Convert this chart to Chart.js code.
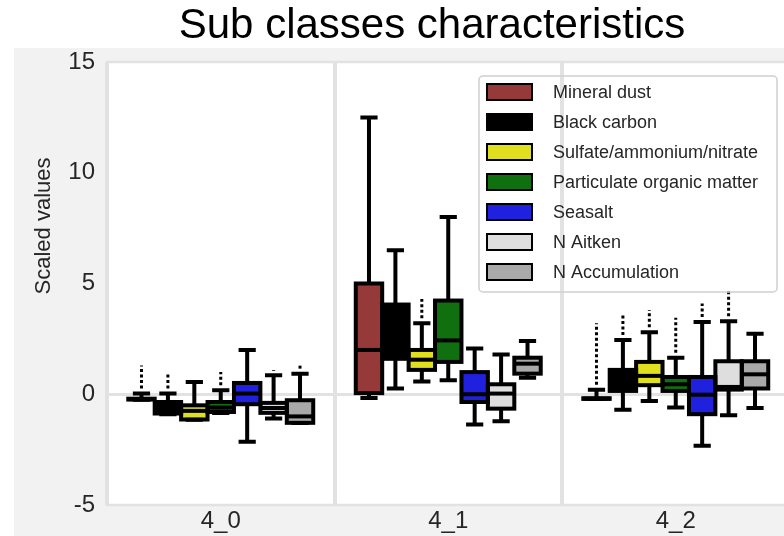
<!DOCTYPE html>
<html>
<head>
<meta charset="utf-8">
<script src="https://cdn.jsdelivr.net/npm/chart.js@4.4.1/dist/chart.umd.min.js"></script>
<style>
  html, body { margin: 0; padding: 0; overflow: hidden; background: #fff; }
  #wrap { width: 792px; height: 536px; }
</style>
</head>
<body>
<div id="wrap"><canvas id="myChart" width="792" height="536"></canvas></div>
<script>
"use strict";
const categories = ["4_0", "4_1", "4_2"];
const seriesNames = [
  "Mineral dust",
  "Black carbon",
  "Sulfate/ammonium/nitrate",
  "Particulate organic matter",
  "Seasalt",
  "N Aitken",
  "N Accumulation",
];
const seriesColors = ["#963939", "#000000", "#dfdf20", "#107010", "#2020df", "#dedede", "#a9a9a9"];

// [low whisker, q1, median, q3, high whisker] for 4_0, 4_1, 4_2
const mineralDust = [[-0.25, -0.24, -0.22, -0.2, 0.03], [-0.17, 0.05, 2.0, 5.0, 12.5], [-0.22, -0.21, -0.2, -0.18, 0.2]];
const blackCarbon = [[-0.9, -0.87, -0.6, -0.35, 0.03], [0.26, 1.6, 2.6, 4.05, 6.5], [-0.7, 0.15, 0.55, 1.1, 2.45]];
const sulfate = [[-1.15, -1.14, -0.75, -0.5, 0.55], [0.58, 1.1, 1.56, 2.0, 3.2], [-0.3, 0.41, 0.83, 1.46, 2.8]];
const organicMatter = [[-0.85, -0.8, -0.6, -0.35, 0.18], [0.63, 1.46, 2.43, 4.23, 8.0], [-0.6, 0.15, 0.45, 0.78, 1.65]];
const seasalt = [[-2.15, -0.45, 0.03, 0.51, 2.0], [-1.37, -0.35, 0.0, 1.0, 2.06], [-2.33, -0.9, -0.02, 0.78, 3.26]];
const nAitken = [[-1.1, -0.84, -0.62, -0.39, 0.86], [-1.22, -0.65, 0.03, 0.45, 1.79], [-0.95, 0.21, 0.33, 1.49, 3.3]];
const nAccumulation = [[-1.3, -1.29, -1.0, -0.27, 0.93], [0.74, 0.93, 1.38, 1.65, 2.4], [-0.62, 0.26, 0.9, 1.49, 2.73]];

// highest outlier above each upper whisker (null = none)
const flierTops = [
  [1.3, null, 3.2],
  [0.93, null, 3.6],
  [null, 4.3, 3.8],
  [1.0, null, 3.45],
  [null, null, 4.1],
  [1.05, null, 4.68],
  [1.4, null, null],
];
const yTicks = [-5, 0, 5, 10, 15];

const stats = [mineralDust, blackCarbon, sulfate, organicMatter, seasalt, nAitken, nAccumulation];
const FONT = "'Liberation Sans', Arial, sans-serif";
const TEXT = "#262626";
const GRID = "#e2e2e2";

const boxPlugin = {
  id: "boxes",
  beforeDraw(chart) {
    const ctx = chart.ctx;
    const area = chart.chartArea;
    ctx.save();
    ctx.fillStyle = "#ffffff";
    ctx.fillRect(0, 0, chart.width, chart.height);
    ctx.fillStyle = "#f2f2f2";
    ctx.fillRect(14, 48, chart.width - 14, chart.height - 48);
    ctx.fillStyle = "#ffffff";
    ctx.fillRect(area.left, area.top, area.right - area.left, area.bottom - area.top);
    ctx.restore();
  },
  beforeDatasetsDraw(chart) {
    const ctx = chart.ctx;
    const area = chart.chartArea;
    ctx.save();
    ctx.strokeStyle = GRID;
    ctx.lineWidth = 2.5;
    ctx.strokeRect(area.left, area.top, area.right - area.left, area.bottom - area.top);
    ctx.restore();
  },
  afterDatasetsDraw(chart) {
    const ctx = chart.ctx;
    const y = chart.scales.y;
    ctx.save();
    ctx.strokeStyle = "#000";
    chart.data.datasets.forEach((ds, i) => {
      const meta = chart.getDatasetMeta(i);
      meta.data.forEach((el, j) => {
        const [lo, q1, med, q3, hi] = stats[i][j];
        const x = el.x;
        const w = el.width;
        const half = w / 2;
        const p = (v) => y.getPixelForValue(v);
        // whiskers
        ctx.lineWidth = 4;
        ctx.lineCap = "butt";
        ctx.beginPath();
        ctx.moveTo(x, p(q3));
        ctx.lineTo(x, p(hi));
        ctx.moveTo(x, p(q1));
        ctx.lineTo(x, p(lo));
        ctx.stroke();
        // caps
        ctx.lineCap = "square";
        ctx.beginPath();
        ctx.moveTo(x - w / 4, p(hi));
        ctx.lineTo(x + w / 4, p(hi));
        ctx.moveTo(x - w / 4, p(lo));
        ctx.lineTo(x + w / 4, p(lo));
        ctx.stroke();
        // box outline
        ctx.lineCap = "butt";
        ctx.lineWidth = 4;
        const top = p(q3);
        const bot = p(q1);
        ctx.strokeRect(x - half, top, w, Math.max(bot - top, 0.5));
        // median
        ctx.lineWidth = 4;
        ctx.beginPath();
        ctx.moveTo(x - half, p(med));
        ctx.lineTo(x + half, p(med));
        ctx.stroke();
        // fliers
        const ft = flierTops[i][j];
        if (ft !== null) {
          ctx.lineWidth = 3;
          ctx.setLineDash([3, 2.5]);
          ctx.beginPath();
          ctx.moveTo(x, p(hi) - 5);
          ctx.lineTo(x, p(ft));
          ctx.stroke();
          ctx.setLineDash([]);
        }
      });
    });
    ctx.restore();
  },
  afterDraw(chart) {
    const ctx = chart.ctx;
    ctx.save();
    // legend
    ctx.strokeStyle = "#cfcfcf";
    ctx.lineWidth = 1.5;
    ctx.beginPath();
    ctx.roundRect(479, 76, 298, 216, 4);
    ctx.stroke();
    ctx.font = "18px " + FONT;
    ctx.textBaseline = "middle";
    ctx.textAlign = "left";
    chart.data.datasets.forEach((ds, i) => {
      const cy = 92 + i * 30;
      ctx.fillStyle = ds.backgroundColor;
      ctx.fillRect(487, cy - 8, 45, 16);
      ctx.strokeStyle = "#000";
      ctx.lineWidth = 2;
      ctx.strokeRect(487, cy - 8, 45, 16);
      ctx.fillStyle = TEXT;
      ctx.fillText(ds.label, 553, cy + 1);
    });
    // axis title
    ctx.save();
    ctx.translate(44, 226);
    ctx.rotate(-Math.PI / 2);
    ctx.font = "22px " + FONT;
    ctx.textAlign = "center";
    ctx.textBaseline = "middle";
    ctx.fillStyle = TEXT;
    ctx.fillText("Scaled values", 0, 0);
    ctx.restore();
    // title
    ctx.font = "42px " + FONT;
    ctx.textAlign = "center";
    ctx.textBaseline = "alphabetic";
    ctx.fillStyle = "#000";
    ctx.fillText("Sub classes characteristics", 432, 38);
    ctx.restore();
  },
};

const createChart = () => {
  const ctx = document.getElementById("myChart").getContext("2d");
  const datasets = seriesNames.map((name, i) => ({
    label: name,
    data: stats[i].map((s) => [s[1], s[3]]),
    backgroundColor: seriesColors[i],
    borderWidth: 0,
    categoryPercentage: 0.813,
    barPercentage: 1.0,
  }));
  return new Chart(ctx, {
    type: "bar",
    data: { labels: categories, datasets },
    options: {
      responsive: false,
      animation: false,
      devicePixelRatio: 1,
      layout: { padding: { top: 62, left: 14, right: 2.5, bottom: 0 } },
      plugins: { legend: { display: false }, tooltip: { enabled: false } },
      scales: {
        x: {
          grid: { offset: true, color: GRID, lineWidth: 4, drawTicks: false },
          border: { display: false },
          ticks: { color: TEXT, font: { size: 24, family: FONT }, padding: 2 },
          afterFit: (s) => { s.height = 31; },
        },
        y: {
          min: -5,
          max: 15,
          afterBuildTicks: (s) => { s.ticks = yTicks.map((v) => ({ value: v })); },
          grid: {
            color: (c) => (c.tick && c.tick.value === 0 ? GRID : "rgba(0,0,0,0)"),
            lineWidth: 3,
            drawTicks: false,
          },
          border: { display: false },
          ticks: { color: TEXT, font: { size: 24, family: FONT }, padding: 12 },
          afterFit: (s) => { s.width = 93; },
        },
      },
    },
    plugins: [boxPlugin],
  });
};

createChart();
</script>
</body>
</html>
